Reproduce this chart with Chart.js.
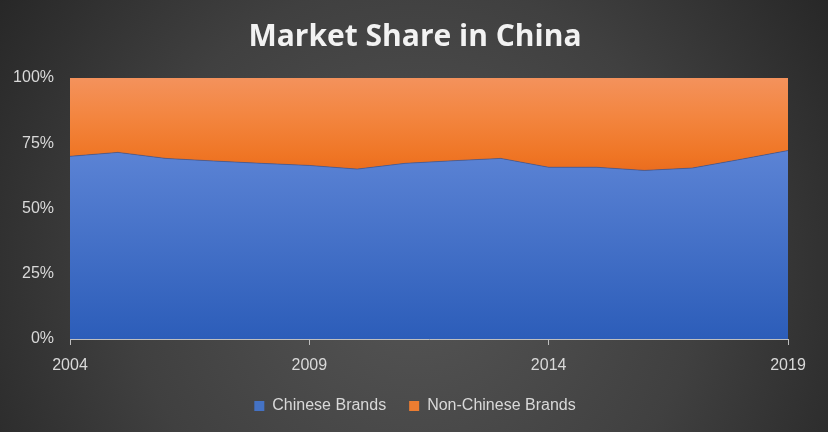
<!DOCTYPE html>
<html>
<head>
<meta charset="utf-8">
<script src="https://cdn.jsdelivr.net/npm/chart.js@4.4.1/dist/chart.umd.min.js"></script>
<style>
html,body{margin:0;padding:0;background:#2b2b2b;}
#wrap{width:828px;height:432px;position:relative;}
</style>
</head>
<body>
<div id="wrap"><canvas id="c" width="828" height="432"></canvas></div>
<script>
const years = [2004,2005,2006,2007,2008,2009,2010,2011,2012,2013,2014,2015,2016,2017,2018,2019];
const chineseBrands = [70.0,71.5,69.2,68.2,67.3,66.5,65.1,67.3,68.3,69.2,65.8,65.8,64.6,65.5,68.8,72.2];
const nonChineseBrands = [30.0,28.5,30.8,31.8,32.7,33.5,34.9,32.7,31.7,30.8,34.2,34.2,35.4,34.5,31.2,27.8];
const xTickYears = [2004,2009,2014,2019];
const yTicks = [0,25,50,75,100];

const tickFont = {family:"'Liberation Sans','Arial',sans-serif", size:16};
const tickColor = '#d9d9d9';

const bgPlugin = {
  id:'bg',
  beforeDraw(chart){
    const ctx = chart.ctx, w = chart.width, h = chart.height;
    const g = ctx.createRadialGradient(w/2, h*0.62, 10, w/2, h*0.62, w*0.62);
    g.addColorStop(0,'#555555');
    g.addColorStop(0.55,'#404040');
    g.addColorStop(1,'#252525');
    ctx.save();
    ctx.fillStyle = g;
    ctx.fillRect(0,0,w,h);
    ctx.restore();
  }
};

const centerBoxes = {
  id:'centerBoxes',
  afterLayout(chart){
    const shift = 21;
    [chart.legend, chart.titleBlock].forEach(b=>{
      if(b){ b.left += shift; b.right += shift; }
    });
  }
};

function blueFill(ctx){
  const ca = ctx.chart.chartArea;
  if(!ca) return '#4472c4';
  const g = ctx.chart.ctx.createLinearGradient(0, ca.top, 0, ca.bottom);
  g.addColorStop(0,'#7196e0');
  g.addColorStop(0.3,'#5a82d4');
  g.addColorStop(1,'#2c5db9');
  return g;
}
function orangeFill(ctx){
  const ca = ctx.chart.chartArea;
  if(!ca) return '#ed7d31';
  const g = ctx.chart.ctx.createLinearGradient(0, ca.top, 0, ca.bottom);
  g.addColorStop(0,'#f4925c');
  g.addColorStop(0.15,'#f3853f');
  g.addColorStop(0.3,'#ef7524');
  g.addColorStop(0.4,'#e6661a');
  g.addColorStop(1,'#d85a10');
  return g;
}

new Chart(document.getElementById('c'), {
  type:'line',
  data:{
    datasets:[
      {label:'Chinese Brands', data: years.map((y,i)=>({x:y,y:chineseBrands[i]})),
       fill:'origin', backgroundColor: blueFill, borderColor:'rgba(60,80,140,0.6)', borderWidth:1,
       pointRadius:0, tension:0, stack:'s'},
      {label:'Non-Chinese Brands', data: years.map((y,i)=>({x:y,y:nonChineseBrands[i]})),
       fill:'-1', backgroundColor: orangeFill, borderColor:'rgba(0,0,0,0)', borderWidth:0,
       pointRadius:0, tension:0, stack:'s'}
    ]
  },
  options:{
    responsive:false,
    animation:false,
    devicePixelRatio:1,
    layout:{padding:{left:0,right:40,top:8,bottom:8}},
    plugins:{
      title:{display:true, text:'Market Share in China', color:'#f2f2f2',
        font:{family:"'Open Sans',sans-serif", size:30, weight:'bold'}, padding:{top:11,bottom:23}},
      legend:{position:'bottom', labels:{color:tickColor, font:tickFont, boxWidth:10, boxHeight:10, padding:23,
        generateLabels(chart){
          const cols=['#4472c4','#ed7d31'];
          return chart.data.datasets.map((d,i)=>({text:d.label, fillStyle:cols[i], strokeStyle:cols[i], lineWidth:0, fontColor:tickColor, datasetIndex:i, hidden:false}));
        }}},
      tooltip:{enabled:false}
    },
    scales:{
      x:{type:'linear', min:2004, max:2019,
        afterBuildTicks(s){ s.ticks = xTickYears.map(v=>({value:v})); },
        afterFit(s){ s.height = 36; },
        ticks:{color:tickColor, font:tickFont, padding:11, maxRotation:0, callback:v=>String(v)},
        grid:{display:true, drawOnChartArea:false, drawTicks:true, tickLength:6, color:'#bfbfbf'},
        border:{display:true, color:'#bfbfbf', width:1}
      },
      y:{stacked:true, min:0, max:100,
        afterBuildTicks(s){ s.ticks = yTicks.map(v=>({value:v})); },
        afterFit(s){ s.width = 70; },
        ticks:{color:tickColor, font:tickFont, padding:16, callback:v=>v+'%'},
        grid:{display:false, drawTicks:false},
        border:{display:false}
      }
    }
  },
  plugins:[bgPlugin, centerBoxes]
});
</script>
</body>
</html>
